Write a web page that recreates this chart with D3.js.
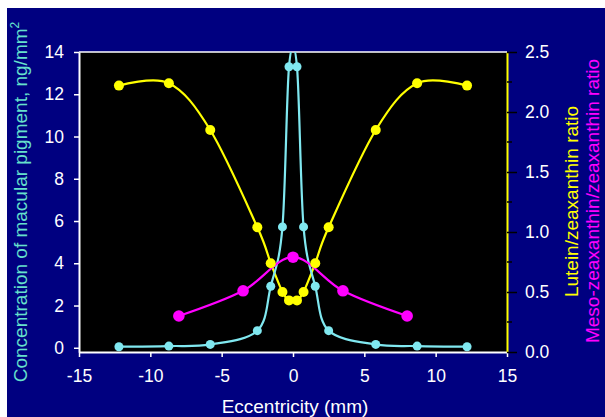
<!DOCTYPE html>
<html><head><meta charset="utf-8">
<script src="https://cdn.jsdelivr.net/npm/d3@7"></script>
<style>html,body{margin:0;padding:0;background:#fff;}svg{display:block;}</style>
</head><body>
<svg id="c" width="605" height="417"></svg>
<script>
// Data
const eccentricity = [-12.2, -8.7, -5.8, -2.5, -1.56, -0.74, -0.28, 0.28, 0.74, 1.56, 2.5, 5.8, 8.7, 12.2];
const mpConcentration = [0.05, 0.08, 0.16, 0.81, 2.91, 5.72, 13.3, 13.3, 5.72, 2.91, 0.81, 0.16, 0.08, 0.05];
const luteinZeaRatio = [2.22, 2.24, 1.85, 1.04, 0.74, 0.50, 0.43, 0.43, 0.50, 0.74, 1.04, 1.85, 2.24, 2.22];
const mesoEcc = [-8.0, -3.5, 0, 3.5, 8.0];
const mesoZeaRatio = [0.30, 0.51, 0.79, 0.51, 0.30];
const xTicks = [-15, -10, -5, 0, 5, 10, 15];
const leftTicks = [0, 2, 4, 6, 8, 10, 12, 14];
const rightTicks = [0, 0.5, 1.0, 1.5, 2.0, 2.5];
const rightMinorTicks = [0.25, 0.75, 1.25, 1.75, 2.25];

const svg = d3.select("#c");
const font = "Liberation Sans, Arial, sans-serif";
const L = 79, R = 507, T = 52, B = 352;

svg.append("rect").attr("x", 7).attr("y", 8).attr("width", 598).attr("height", 409).attr("fill", "#000080");
svg.append("rect").attr("x", L).attr("y", T).attr("width", R - L).attr("height", B - T).attr("fill", "#000");

const x = d3.scaleLinear().domain([-15, 15]).range([L, R]);
const yL = d3.scaleLinear().domain([-0.2, 14]).range([B, T]);
const yR = d3.scaleLinear().domain([0, 2.5]).range([B, T]);

svg.append("defs").append("clipPath").attr("id", "clip")
  .append("rect").attr("x", L).attr("y", T).attr("width", R - L).attr("height", B - T);

// plot frame top
svg.append("line").attr("x1", L).attr("x2", R).attr("y1", T).attr("y2", T).attr("stroke", "#fff").attr("stroke-width", 1.5);

// X axis
const gx = svg.append("g").attr("transform", `translate(0,${B})`)
  .call(d3.axisBottom(x).tickValues(xTicks).tickSize(5).tickSizeOuter(0).tickPadding(13).tickFormat(d3.format("d")));
gx.select(".domain").attr("stroke", "#fff").attr("stroke-width", 2);
gx.selectAll(".tick line").attr("stroke", "#fff").attr("stroke-width", 1.5);
gx.selectAll("text").attr("fill", "#fff").attr("font-family", font).attr("font-size", 17.5).text(d => d < 0 ? "-" + Math.abs(d) : d);

// Left axis
const gl = svg.append("g").attr("transform", `translate(${L},0)`)
  .call(d3.axisLeft(yL).tickValues(leftTicks).tickSize(5).tickSizeOuter(0).tickPadding(10).tickFormat(d3.format("d")));
gl.select(".domain").attr("stroke", "#fff").attr("stroke-width", 2);
gl.selectAll(".tick line").attr("stroke", "#fff").attr("stroke-width", 1.5);
gl.selectAll("text").attr("fill", "#fff").attr("font-family", font).attr("font-size", 17.5);

// Right axis
const gr = svg.append("g").attr("transform", `translate(${R},0)`)
  .call(d3.axisRight(yR).tickValues(rightTicks).tickSize(10).tickSizeOuter(0).tickPadding(8).tickFormat(d3.format(".1f")));
gr.select(".domain").attr("stroke", "#ffff00").attr("stroke-width", 2);
gr.selectAll(".tick line").attr("stroke", "#000").attr("stroke-width", 1.5);
gr.selectAll("text").attr("fill", "#fff").attr("font-family", font).attr("font-size", 17.5);
gr.selectAll(".minor").data(rightMinorTicks).enter().append("line")
  .attr("x1", 0).attr("x2", 5).attr("y1", d => yR(d)).attr("y2", d => yR(d))
  .attr("stroke", "#000").attr("stroke-width", 1.5);

const plot = svg.append("g").attr("clip-path", "url(#clip)");
const curve = d3.curveCardinal.tension(0);

function series(xs, ys, yScale, color, r, sw) {
  const pts = xs.map((d, i) => [d, ys[i]]);
  plot.append("path").datum(pts)
    .attr("d", d3.line().x(d => x(d[0])).y(d => yScale(d[1])).curve(curve))
    .attr("fill", "none").attr("stroke", color).attr("stroke-width", sw);
  svg.append("g").selectAll("circle").data(pts).enter().append("circle")
    .attr("cx", d => x(d[0])).attr("cy", d => yScale(d[1])).attr("r", r).attr("fill", color);
}
series(eccentricity, luteinZeaRatio, yR, "#ffff00", 5, 2.2);
series(eccentricity, mpConcentration, yL, "#80e8f0", 4.5, 2.2);
series(mesoEcc, mesoZeaRatio, yR, "#ff00ff", 5.8, 2.2);

// Titles
const lt = svg.append("text").attr("transform", "translate(27,202) rotate(-90)")
  .attr("text-anchor", "middle").attr("font-family", font).attr("font-size", 19).attr("fill", "#66e0cc");
lt.append("tspan").text("Concentration of macular pigment, ng/mm");
lt.append("tspan").attr("dy", -8).attr("font-size", 12).text("2");

svg.append("text").attr("transform", "translate(578,201.5) rotate(-90)")
  .attr("text-anchor", "middle").attr("font-family", font).attr("font-size", 19).attr("fill", "#ffff00")
  .text("Lutein/zeaxanthin ratio");
svg.append("text").attr("transform", "translate(599,201) rotate(-90)")
  .attr("text-anchor", "middle").attr("font-family", font).attr("font-size", 19).attr("fill", "#ff00ff")
  .text("Meso-zeaxanthin/zeaxanthin ratio");
svg.append("text").attr("x", 295).attr("y", 413)
  .attr("text-anchor", "middle").attr("font-family", font).attr("font-size", 19).attr("fill", "#fff")
  .text("Eccentricity (mm)");
</script>
</body></html>
